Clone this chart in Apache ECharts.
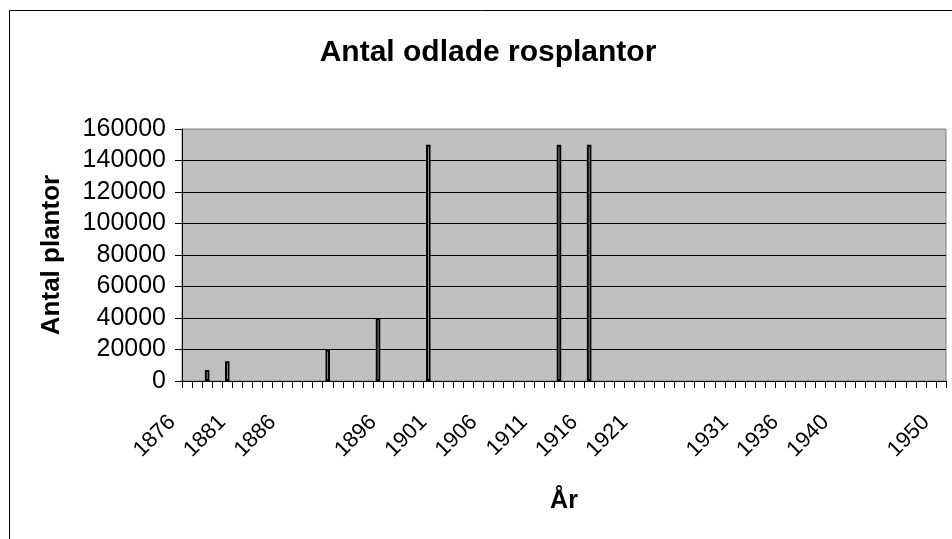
<!DOCTYPE html>
<html>
<head>
<meta charset="utf-8">
<script src="https://cdn.jsdelivr.net/npm/echarts@6/dist/echarts.min.js"></script>
<style>
html,body{margin:0;padding:0;background:#fff;}
#chart{width:952px;height:539px;}
</style>
</head>
<body>
<div id="chart"></div>
<script>
// Category labels (years); blank entries are categories without a label
const years = [
  '1876','1877','1878','1879','1880','1881','1882','1883','1884','1885',
  '1886','1887','1888','1889','1890','','1892','1893','1894','1895',
  '1896','1897','1898','1899','1900','1901','1902','1903','1904','1905',
  '1906','1907','1908','1909','1910','1911','1912','1913','1914','1915',
  '1916','1917','1918','1919','1920','1921','1922','1923','1924','1925',
  '','1927','1928','1929','1930','1931','1932','1933','1934','1935',
  '1936','1937','1938','1939','','1940','1941','1942','1943','1944',
  '','1946','1947','1948','1949','1950'
];
// Plants per year (only years with values)
const plantYears  = ['1878','1880','1890','1895','1900','1913','1916'];
const plantValues = [7000, 12500, 20000, 40000, 150000, 150000, 150000];
const yTicks = [0,20000,40000,60000,80000,100000,120000,140000,160000];

const seriesData = years.map(y => {
  const i = y === '' ? -1 : plantYears.indexOf(y);
  return i >= 0 ? plantValues[i] : null;
});

const FONT = 'Liberation Sans, Arial, sans-serif';
const chart = echarts.init(document.getElementById('chart'), null, {renderer:'canvas'});
chart.setOption({
  animation:false,
  backgroundColor:'#ffffff',
  title:{
    text:'Antal odlade rosplantor',
    left:483, top:33, textAlign:'center',
    textStyle:{fontFamily:FONT, fontSize:30, fontWeight:'bold', color:'#000'}
  },
  graphic:[{
    type:'rect', silent:true,
    shape:{x:9.5, y:10.5, width:1000, height:600},
    style:{fill:'none', stroke:'#000', lineWidth:1}
  }],
  grid:{
    left:182, right:6, top:129, bottom:158,
    show:true, backgroundColor:'#C0C0C0', borderColor:'#808080', borderWidth:1
  },
  xAxis:{
    type:'category',
    data:years,
    boundaryGap:true,
    name:'År',
    nameLocation:'middle',
    nameGap:108,
    nameTextStyle:{fontFamily:FONT, fontSize:25, fontWeight:'bold', color:'#000'},
    axisLine:{show:true, lineStyle:{color:'#000', width:1}},
    axisTick:{show:true, interval:0, length:7, lineStyle:{color:'#000'}},
    axisLabel:{
      interval:4, rotate:45, margin:23, padding:[0,21,0,0],
      fontFamily:FONT, fontSize:22, color:'#000'
    },
    splitLine:{show:false}
  },
  yAxis:{
    type:'value',
    min:yTicks[0], max:yTicks[yTicks.length-1], interval:yTicks[1]-yTicks[0],
    name:'Antal plantor',
    nameLocation:'middle',
    nameGap:117,
    nameTextStyle:{fontFamily:FONT, fontSize:26, fontWeight:'bold', color:'#000'},
    axisLine:{show:true, lineStyle:{color:'#000', width:1}},
    axisTick:{show:true, length:7, lineStyle:{color:'#000'}},
    axisLabel:{margin:16, fontFamily:FONT, fontSize:25, color:'#000',
      formatter: v => String(v)},
    splitLine:{show:true, showMaxLine:false, lineStyle:{color:'#000', width:1}}
  },
  series:[{
    type:'bar',
    data:seriesData,
    barWidth:4.5,
    itemStyle:{color:'#ffffff', borderColor:'#000', borderWidth:2}
  }]
});
</script>
</body>
</html>
